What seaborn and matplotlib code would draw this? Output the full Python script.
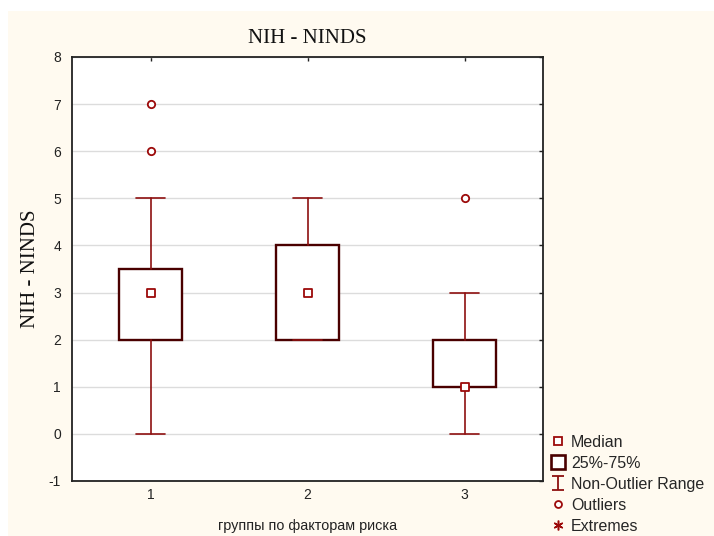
import matplotlib
matplotlib.use("Agg")
import matplotlib.pyplot as plt
from matplotlib.patches import Rectangle
from matplotlib.lines import Line2D
from matplotlib.path import Path
import seaborn as sns
import pandas as pd

# Summary statistics per risk-factor group
groups = [1, 2, 3]
medians = [3, 3, 1]
q1 = [2, 2, 1]
q3 = [3.5, 4, 2]
whisker_low = [0, 2, 0]
whisker_high = [5, 5, 3]
outlier_group = [1, 1, 3]
outlier_value = [6, 7, 5]

title = "NIH - NINDS"
ylabel = "NIH - NINDS"
xlabel = "группы по факторам риска"
yticks = [-1, 0, 1, 2, 3, 4, 5, 6, 7, 8]
legend_labels = ["Median", "25%-75%", "Non-Outlier Range", "Outliers", "Extremes"]

box_color = "#4a0000"
whisk_color = "#8e1010"
point_color = "#9c0a0a"
cream = "#fffaf0"

sns.set_style("white")
plt.rcParams["font.family"] = ["Liberation Sans", "DejaVu Sans"]
plt.rcParams["axes.unicode_minus"] = False

fig = plt.figure(figsize=(7.14, 5.36), dpi=100, facecolor="white")
fig.patches.append(Rectangle((8 / 714, 0), 1, 1 - 11 / 536, transform=fig.transFigure,
                             facecolor=cream, edgecolor="none", zorder=-10))
ax = fig.add_axes([72 / 714, 55 / 536, 471 / 714, 424 / 536])
ax.set_facecolor("white")

stats = [
    dict(med=m, q1=a, q3=b, whislo=lo, whishi=hi, fliers=[])
    for m, a, b, lo, hi in zip(medians, q1, q3, whisker_low, whisker_high)
]
ax.bxp(stats, positions=groups, widths=0.4, showfliers=False, patch_artist=True,
       boxprops=dict(facecolor="white", edgecolor=box_color, linewidth=1.7),
       whiskerprops=dict(color=whisk_color, linewidth=1.2),
       capprops=dict(color=whisk_color, linewidth=1.2),
       medianprops=dict(linewidth=0), capwidths=0.19, zorder=3)

med_df = pd.DataFrame({"group": groups, "value": medians})
out_df = pd.DataFrame({"group": outlier_group, "value": outlier_value})
sns.scatterplot(data=med_df, x="group", y="value", ax=ax, marker="s", s=30,
                facecolor="white", edgecolor=point_color, linewidth=1.3, zorder=5)
sns.scatterplot(data=out_df, x="group", y="value", ax=ax, marker="o", s=28,
                facecolor="white", edgecolor=point_color, linewidth=1.3, zorder=5)

ax.set_xlim(0.5, 3.5)
ax.set_ylim(-1, 8)
ax.set_yticks(yticks)
ax.set_xticks(groups)
ax.set_xticklabels([str(g) for g in groups])
ax.yaxis.grid(True, color="#dcdcdc", linewidth=1.0, zorder=0)
ax.set_axisbelow(True)
for sp in ax.spines.values():
    sp.set_color("#222222")
    sp.set_linewidth(1.3)
ax.tick_params(direction="in", length=3, width=1, top=True, right=True,
               labelsize=10, colors="#222222")
ax.tick_params(axis="x", pad=5)
ax.tick_params(axis="y", pad=8)

ax.set_title(title, family=["Liberation Serif"], fontsize=15, pad=10, color="#111111")
ax.set_ylabel(ylabel, family=["Liberation Serif"], fontsize=15, labelpad=6, color="#111111")
ax.set_xlabel(xlabel, fontsize=10.4, labelpad=12, color="#222222")

whisker_path = Path(
    [(-0.8, -1), (0.8, -1), (0, -1), (0, 1), (-0.8, 1), (0.8, 1)],
    [Path.MOVETO, Path.LINETO, Path.MOVETO, Path.LINETO, Path.MOVETO, Path.LINETO],
)
handles = [
    Line2D([], [], linestyle="none", marker="s", markersize=5.2, markerfacecolor="white",
           markeredgecolor=point_color, markeredgewidth=1.3),
    Line2D([], [], linestyle="none", marker="s", markersize=9.5, markerfacecolor="white",
           markeredgecolor=box_color, markeredgewidth=1.9),
    Line2D([], [], linestyle="none", marker=whisker_path, markersize=10,
           markeredgecolor=whisk_color, markeredgewidth=1.3),
    Line2D([], [], linestyle="none", marker="o", markersize=5, markerfacecolor="white",
           markeredgecolor=point_color, markeredgewidth=1.3),
    Line2D([], [], linestyle="none", marker=(6, 2, 0), markersize=7,
           markeredgecolor=point_color, markeredgewidth=1.1),
]
fig.legend(handles, legend_labels, loc="lower left", bbox_to_anchor=(540 / 714, -0.014),
           frameon=False, fontsize=11.5, handlelength=1.0, handletextpad=0.35,
           labelspacing=0.38, borderaxespad=0.2)

fig.savefig("out.png", dpi=100, facecolor=fig.get_facecolor())
